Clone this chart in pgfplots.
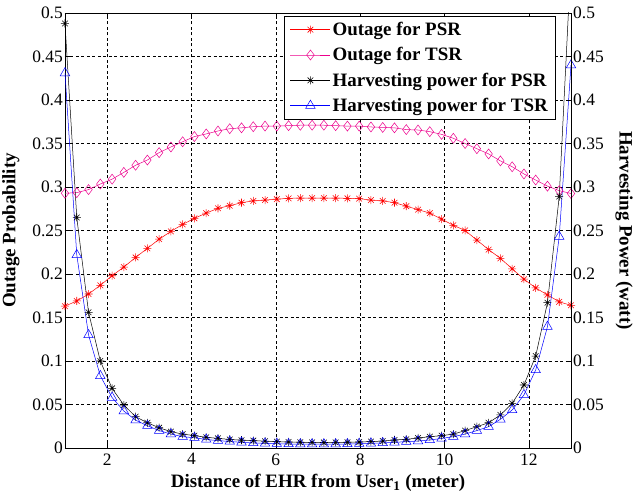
\documentclass[border=0pt]{standalone}
\usepackage{fontspec}
\setmainfont{Liberation Serif}
\usepackage{pgfplots}
\usepackage{pgfplotstable}
\pgfplotsset{compat=1.18}
\usetikzlibrary{calc}

\pgfdeclareplotmark{mstar}{%
 \pgfpathmoveto{\pgfqpoint{-\pgfplotmarksize}{0pt}}\pgfpathlineto{\pgfqpoint{\pgfplotmarksize}{0pt}}%
 \pgfpathmoveto{\pgfqpoint{0pt}{-\pgfplotmarksize}}\pgfpathlineto{\pgfqpoint{0pt}{\pgfplotmarksize}}%
 \pgfpathmoveto{\pgfqpoint{-.7071\pgfplotmarksize}{-.7071\pgfplotmarksize}}\pgfpathlineto{\pgfqpoint{.7071\pgfplotmarksize}{.7071\pgfplotmarksize}}%
 \pgfpathmoveto{\pgfqpoint{-.7071\pgfplotmarksize}{.7071\pgfplotmarksize}}\pgfpathlineto{\pgfqpoint{.7071\pgfplotmarksize}{-.7071\pgfplotmarksize}}%
 \pgfusepathqstroke}

\pgfplotstableread{
x red mag blk blu
1.0000 0.163 0.2928 0.488 0.431
1.2791 0.169 0.2935 0.265 0.222
1.5581 0.177 0.297 0.156 0.130
1.8372 0.187 0.3034 0.100 0.083
2.1163 0.198 0.309 0.0686 0.058
2.3953 0.208 0.3168 0.0494 0.0425
2.6744 0.219 0.325 0.036 0.032
2.9535 0.2295 0.331 0.029 0.0256
3.2326 0.240 0.3395 0.0233 0.020
3.5116 0.249 0.346 0.0188 0.016
3.7907 0.257 0.352 0.016 0.013
4.0698 0.264 0.358 0.0142 0.0118
4.3488 0.270 0.361 0.0123 0.0098
4.6279 0.2755 0.3644 0.0111 0.0085
4.9070 0.2785 0.367 0.0098 0.0075
5.1860 0.282 0.368 0.009 0.0065
5.4651 0.284 0.3693 0.0085 0.0058
5.7442 0.285 0.370 0.0078 0.0053
6.0233 0.286 0.370 0.0073 0.0049
6.3023 0.287 0.3705 0.0069 0.0046
6.5814 0.2872 0.371 0.0066 0.0045
6.8605 0.2872 0.371 0.0064 0.0044
7.1395 0.2872 0.371 0.0063 0.0044
7.4186 0.2872 0.3705 0.0064 0.0045
7.6977 0.287 0.370 0.0066 0.0046
7.9767 0.2866 0.370 0.0069 0.0049
8.2558 0.285 0.369 0.0074 0.0053
8.5349 0.284 0.3685 0.0080 0.0058
8.8140 0.282 0.368 0.0092 0.0065
9.0930 0.278 0.366 0.010 0.0073
9.3721 0.274 0.3655 0.0115 0.008
9.6512 0.270 0.3636 0.013 0.0092
9.9302 0.263 0.3605 0.0142 0.011
10.2093 0.256 0.356 0.016 0.013
10.4884 0.250 0.350 0.020 0.016
10.7674 0.239 0.344 0.0245 0.020
11.0465 0.228 0.338 0.029 0.0245
11.3256 0.218 0.330 0.038 0.033
11.6047 0.206 0.3233 0.0513 0.0437
11.8837 0.194 0.315 0.0724 0.061
12.1628 0.184 0.308 0.1057 0.0897
12.4419 0.176 0.301 0.167 0.1395
12.7209 0.168 0.2958 0.289 0.243
13.0000 0.164 0.2925 0.56 0.44
}\datatable

\begin{document}
\begin{tikzpicture}
\pgfplotsset{
  every axis/.append style={
    scale only axis, width=506bp, height=435bp,
    xmin=1, xmax=13, ymin=0, ymax=0.5,
    tick align=inside, major tick length=5bp,
    tick style={black, line width=0.5bp},
    ticklabel style={font=\fontsize{17.5}{20}\selectfont},
    label style={font=\bfseries\fontsize{19}{22}\selectfont},
    /pgf/number format/assume math mode=true,
    ytick={0,0.05,0.1,0.15,0.2,0.25,0.3,0.35,0.4,0.45,0.5},
    yticklabels={0,0.05,0.1,0.15,0.2,0.25,0.3,0.35,0.4,0.45,0.5},
    axis line style={black, line width=0.6bp},
    yticklabel style={inner xsep=2bp},
  }
}
\begin{axis}[
  name=main,
  xtick={2,4,6,8,10,12},
  xticklabels={2,4,6,8,10,12},
  xtick pos=both, ytick pos=left,
  grid=major,
  grid style={black, line width=0.45bp, dash pattern=on 3bp off 2.5bp},
  xlabel={Distance of EHR from User\textsubscript{1} (meter)},
  ylabel={Outage Probability},
  xlabel style={at={(axis description cs:0.5,-40/435)}, anchor=base},
  ylabel style={at={(axis description cs:-54/506,0.5)}, anchor=center},
  xticklabel style={yshift=-2bp},
  legend style={at={(1-15/506,1-3/435)}, anchor=north east, draw=black, line width=0.6bp,
    font=\bfseries\fontsize{19}{22}\selectfont, fill=white,
    inner xsep=6bp, inner ysep=4bp, row sep=6.5bp,
    /tikz/every even column/.append style={column sep=4bp}},
  legend cell align=left,
  legend image code/.code={%
    \draw[mark repeat=2, mark phase=2] plot coordinates {(0bp,0bp) (20bp,0bp) (40bp,0bp)};},
]
\addplot[red, line width=0.5bp, mark=mstar, mark size=4bp, mark options={line width=0.55bp}] table[x=x,y=red] {\datatable};
\addlegendentry{Outage for PSR}
\addplot[magenta, line width=0.5bp, mark=diamond, mark size=5bp, mark options={line width=0.5bp}] table[x=x,y=mag] {\datatable};
\addlegendentry{Outage for TSR}
\addplot[black, line width=0.5bp, mark=mstar, mark size=4bp, mark options={line width=0.55bp}] table[x=x,y=blk] {\datatable};
\addlegendentry{Harvesting power for PSR}
\addplot[blue, line width=0.5bp, mark=triangle, mark size=5.5bp, mark options={line width=0.5bp}] table[x=x,y=blu] {\datatable};
\addlegendentry{Harvesting power for TSR}
\end{axis}
\begin{axis}[
  axis x line=none,
  axis y line*=right,
  ylabel={Harvesting Power (watt)},
  ylabel style={at={(axis description cs:1+53/506,0.5)}, anchor=center, rotate=180},
]
\end{axis}
\pgfresetboundingbox
\path[use as bounding box] ($(main.south west)+(-65bp,-53bp)$) rectangle ($(main.north east)+(70bp,13bp)$);
\end{tikzpicture}
\end{document}
